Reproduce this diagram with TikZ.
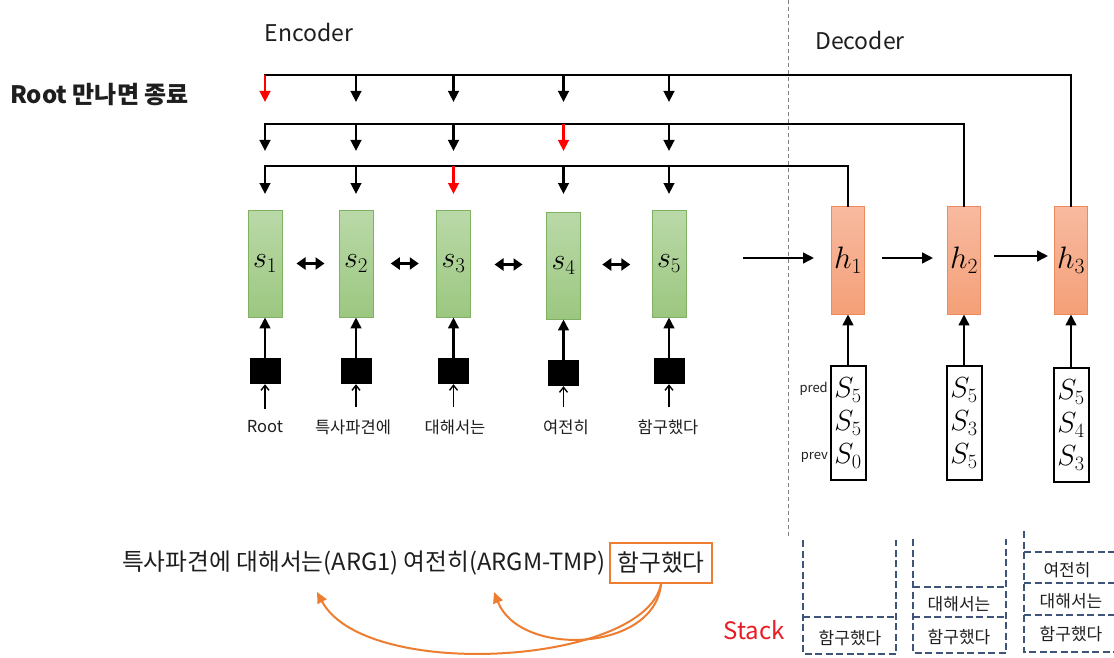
\RequirePackage{fix-cm}
\documentclass[tikz,border=0pt]{standalone}
\usepackage{fontspec}
\setmainfont{Noto Sans CJK KR}
\usetikzlibrary{arrows.meta,calc}

\definecolor{gtop}{RGB}{186,217,168}
\definecolor{gbot}{RGB}{156,199,128}
\definecolor{gline}{RGB}{128,176,98}
\definecolor{otop}{RGB}{248,186,160}
\definecolor{obot}{RGB}{244,160,120}
\definecolor{oline}{RGB}{236,138,94}
\definecolor{accent}{RGB}{237,125,49}
\definecolor{slate}{RGB}{62,84,120}
\definecolor{ink}{RGB}{30,30,30}
\definecolor{alert}{RGB}{232,28,36}

\tikzset{
  gbox/.style={draw=gline, line width=0.8pt, top color=gtop, bottom color=gbot,
    minimum width=34pt, minimum height=107pt, inner sep=0pt,
    font=\fontsize{30}{30}\selectfont},
  obox/.style={draw=oline, line width=0.8pt, top color=otop, bottom color=obot,
    minimum width=33pt, minimum height=108pt, inner sep=0pt,
    font=\fontsize{31}{31}\selectfont},
  emb/.style={fill=black, minimum width=31pt, minimum height=26pt, inner sep=0pt},
  word/.style={font=\fontsize{16.5}{18}\selectfont, text=ink, inner ysep=12pt},
  busline/.style={line width=2.6pt, line cap=rect},
  feedarrow/.style={line width=2.6pt, -{Triangle[length=11pt,width=10.5pt]}},
  hitarrow/.style={feedarrow, draw=red},
  pairarrow/.style={line width=3pt,
    {Triangle[length=9pt,width=12pt]}-{Triangle[length=9pt,width=12pt]}},
  wordfeed/.style={line width=1.4pt, -{Straight Barb[length=5pt,width=8pt]}},
  inbox/.style={draw, line width=2pt, fill=white, minimum width=35pt,
    minimum height=114pt, inner sep=0pt, align=center,
    font=\fontsize{29}{33}\selectfont},
  sidetag/.style={anchor=east, inner sep=0pt, font=\fontsize{13}{13}\selectfont, text=ink},
  stackline/.style={draw=slate, line width=2pt, dash pattern=on 7pt off 3.5pt},
  stackword/.style={font=\fontsize{17}{17}\selectfont, text=ink},
  rolearrow/.style={draw=accent, line width=2pt, -{Triangle[length=11pt,width=10pt]}},
  heading/.style={font=\fontsize{23}{23}\selectfont, text=ink},
}

\begin{document}
\begin{tikzpicture}[x=1pt, y=-1pt]
\useasboundingbox (0,0) rectangle (1114,658);
\clip (0,0) rectangle (1114,658);

% headings
\node[heading] (enc) at (309,32) {Encoder};
\node[heading] (dec) at (860,40) {Decoder};
\node[anchor=west, inner sep=0pt, font=\fontsize{24}{24}\selectfont\bfseries, text=ink] (rule) at (10,95) {Root 만나면 종료};

% encoder / decoder divider
\draw[gray, line width=0.8pt, dash pattern=on 4pt off 3pt] (788,0) -- (788,538);

% encoder states
\node[gbox] (s1) at (265,263.5) {$s_1$};
\node[gbox] (s2) at (356,263.5) {$s_2$};
\node[gbox] (s3) at (453.5,263.5) {$s_3$};
\node[gbox] (s4) at (563.5,265.5) {$s_4$};
\node[gbox] (s5) at (669,263.5) {$s_5$};

% decoder states
\node[obox] (h1) at (848,260) {$h_1$};
\node[obox] (h2) at (964,260) {$h_2$};
\node[obox] (h3) at (1071,260) {$h_3$};

% word embeddings and words
\foreach \i/\y in {1/371,2/371,3/371,4/373,5/371}
  \node[emb] (e\i) at (s\i |- 0,\y) {};
\node[word] (w1) at (265,427) {Root};
\node[word] (w2) at (353,427) {특사파견에};
\node[word] (w3) at (455,427) {대해서는};
\node[word] (w4) at (566,427) {여전히};
\node[word] (w5) at (668,427) {함구했다};
\foreach \i in {1,...,5} {
  \draw[wordfeed] (e\i.south |- w\i.north) -- (e\i.south);
  \draw[feedarrow] (e\i.north) -- (s\i.south);
}

% bidirectional links between encoder states
\foreach \a/\b in {1/2,2/3,3/4,4/5}
  \draw[pairarrow] ($(s\a.east)!.5!(s\b.west)+(-14,0)$) -- ($(s\a.east)!.5!(s\b.west)+(14,0)$);

% attention buses from each decoder step back to the encoder
\coordinate (b1) at (0,75);  \coordinate (t1) at (0,102);
\coordinate (b2) at (0,124); \coordinate (t2) at (0,151);
\coordinate (b3) at (0,166); \coordinate (t3) at (0,194);
\draw[busline] (h3.north) |- (s1 |- b1);
\draw[busline] (h2.north) |- (s1 |- b2);
\draw[busline] (h1.north) |- (s1 |- b3);
\draw[hitarrow] (s1 |- b1) -- (s1 |- t1);
\foreach \j in {2,...,5} \draw[feedarrow] (s\j |- b1) -- (s\j |- t1);
\foreach \j in {1,2,3,5} \draw[feedarrow] (s\j |- b2) -- (s\j |- t2);
\draw[hitarrow] (s4 |- b2) -- (s4 |- t2);
\foreach \j in {1,2,4,5} \draw[feedarrow] (s\j |- b3) -- (s\j |- t3);
\draw[hitarrow] (s3 |- b3) -- (s3 |- t3);

% decoder chain
\coordinate (m) at (0,258);
\draw[feedarrow, shorten <=57pt, shorten >=17pt] (s5.east |- m) -- (h1.west |- m);
\draw[feedarrow, shorten <=17pt, shorten >=14pt] (h1.east |- m) -- (h2.west |- m);
\draw[feedarrow, shorten <=13pt, shorten >=6pt] (h2.east |- 0,256) -- (h3.west |- 0,256);

% decoder inputs
\node[inbox] (in1) at (h1 |- 0,423) {$S_5$\\$S_5$\\$S_0$};
\node[inbox] (in2) at (h2 |- 0,423) {$S_5$\\$S_3$\\$S_5$};
\node[inbox] (in3) at (h3 |- 0,425) {$S_5$\\$S_4$\\$S_3$};
\node[sidetag] (pd) at (828,389) {pred};
\node[sidetag] (pv) at (828,457) {prev};
\foreach \i in {1,2,3} \draw[feedarrow] (in\i.north) -- (h\i.south);

% sentence with the predicate and its arguments
\node[anchor=east, inner sep=0pt, font=\fontsize{23.7}{24}\selectfont, text=ink] (sent) at (606,563)
  {특사파견에 대해서는(ARG1) 여전히(ARGM-TMP)};
\node[draw=accent, line width=2pt, minimum width=102pt, minimum height=40pt, inner sep=0pt,
  font=\fontsize{23.7}{24}\selectfont, text=ink] (verb) at (661,563) {함구했다};
\coordinate (arg1) at (317,592);
\coordinate (tmp) at (494,592);
\draw[rolearrow] (verb.south) .. controls (645,665) and (365,682) .. (arg1);
\draw[rolearrow] (verb.south) .. controls (655,652) and (520,658) .. (tmp);

% stacks
\node[font=\fontsize{24}{24}\selectfont, text=alert] (stk) at (754,630) {Stack};
\draw[stackline] (803,540) -- (803,654) -- (896,654) -- (896,540);
\draw[stackline, line width=1.5pt] (803,617) -- (896,617);
\node[stackword] (k1a) at (850,638) {함구했다};

\draw[stackline] (913,539) -- (913,653) -- (1006,653) -- (1006,539);
\draw[stackline, line width=1.5pt] (913,587) -- (1006,587);
\draw[stackline, line width=1.5pt] (913,617) -- (1006,617);
\node[stackword] (k2b) at (959,604) {대해서는};
\node[stackword] (k2a) at (959,637) {함구했다};

\draw[stackline] (1024,531) -- (1024,652) -- (1120,652);
\foreach \y in {552,583,615} \draw[stackline, line width=1.5pt] (1024,\y) -- (1120,\y);
\node[stackword] (k3c) at (1067,570) {여전히};
\node[stackword] (k3b) at (1071,601) {대해서는};
\node[stackword] (k3a) at (1071,634) {함구했다};
\end{tikzpicture}
\end{document}
